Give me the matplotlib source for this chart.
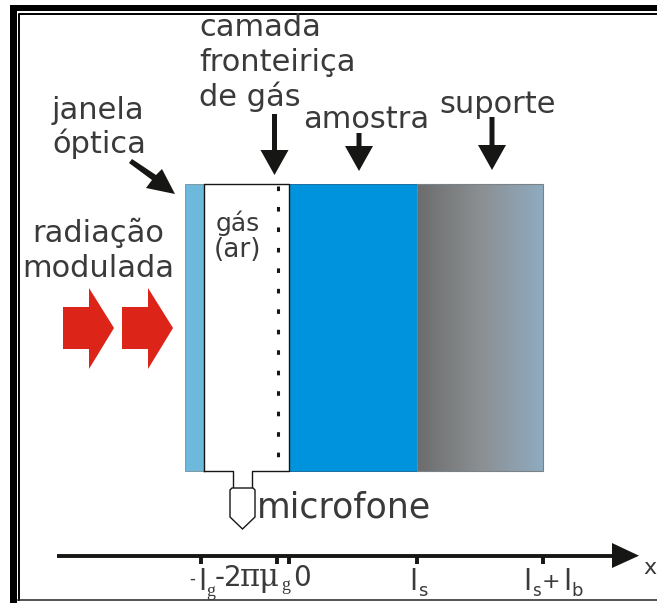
import numpy as np
import matplotlib
matplotlib.use('Agg')
import matplotlib.pyplot as plt
from matplotlib.patches import Rectangle, Polygon

plt.rcParams['font.family'] = ['DejaVu Sans']

# layer boundaries along the x axis (pixels of the sketch)
layer_names = ['janela', 'gas', 'amostra', 'suporte']
layer_edges = [185, 204, 289, 417, 543]
layer_top = 184
layer_bottom = 471

# x axis ticks
tick_pos = [201, 277, 289, 417, 543]

TEXT = '#3a3a3a'
BLACK = '#161614'

fig = plt.figure(figsize=(6.57, 6.03), dpi=100)
ax = fig.add_axes([0, 0, 1, 1])
ax.axis('off')

# frame
ax.add_patch(Rectangle((10, 5), 700, 600, fc='black', ec='none', zorder=0))
ax.add_patch(Rectangle((16.5, 10.5), 700, 600, fc='white', ec='none', zorder=0))
ax.plot([18.8, 18.8, 657], [600, 13.8, 13.8], color='black', lw=1.4, zorder=1)
ax.plot([18, 657], [600, 600], color='#222222', lw=1.1, zorder=1)

# layers
ax.add_patch(Rectangle((layer_edges[0], layer_top), layer_edges[1] - layer_edges[0],
                       layer_bottom - layer_top, fc='#6cb9dc', ec='#7f98a4', lw=0.7, zorder=2))
ax.add_patch(Rectangle((layer_edges[2], layer_top), layer_edges[3] - layer_edges[2],
                       layer_bottom - layer_top, fc='#0093dd', ec='#1b6f9e', lw=0.7, zorder=2))

# gradient of the support
cmap = matplotlib.colors.LinearSegmentedColormap.from_list('sup', ['#6c6c6c', '#8b8f92', '#8fabc0'])
ax.imshow(np.linspace(0, 1, 256)[None, :], cmap=cmap, aspect='auto', zorder=2,
          extent=(layer_edges[3], layer_edges[4], layer_bottom, layer_top))
ax.add_patch(Rectangle((layer_edges[3], layer_top), layer_edges[4] - layer_edges[3],
                       layer_bottom - layer_top, fc='none', ec='#7b8287', lw=0.8, zorder=3))
ax.set_xlim(0, 657)
ax.set_ylim(603, 0)

# gas cell outline with the microphone tube
ax.plot([204, 204, 289, 289, 252, 252], [471, 184, 184, 471, 471, 488], color=BLACK, lw=1.0, zorder=4)
ax.plot([204, 233, 233], [471, 471, 488], color=BLACK, lw=1.0, zorder=4)
ax.plot([277.5, 277.5], [186, 470], color=BLACK, lw=2.2, ls=(0, (1.5, 5.2)), zorder=4)

# microphone
ax.add_patch(Polygon([(232, 488), (253, 488), (255, 490), (255, 517), (242.5, 529), (230, 517), (230, 490)],
                     closed=True, fc='white', ec=BLACK, lw=1.0, zorder=4))


def down_arrow(x, y0, y1, shaft=5, head=14, head_h=25):
    ax.add_patch(Polygon([(x - shaft / 2, y0), (x + shaft / 2, y0), (x + shaft / 2, y1 - head_h),
                          (x + head, y1 - head_h), (x, y1), (x - head, y1 - head_h),
                          (x - shaft / 2, y1 - head_h)], fc=BLACK, ec='none', zorder=5))


down_arrow(274.5, 114, 175)
down_arrow(359, 133, 171)
down_arrow(492, 117, 170)
# window arrow
ax.add_patch(Polygon([(129, 163), (132, 159), (156, 175), (162, 169), (175, 194), (146, 188), (152, 180)],
                     fc=BLACK, ec='none', zorder=5))

# red arrows
for x0 in [63, 122]:
    ax.add_patch(Polygon([(x0, 307), (x0 + 26, 307), (x0 + 26, 288), (x0 + 51, 328),
                          (x0 + 26, 369), (x0 + 26, 349), (x0, 349)], fc='#dc2418', ec='none', zorder=5))

# x axis
ax.plot([57, 615], [555.7, 555.7], color=BLACK, lw=2.8, solid_capstyle='butt', zorder=5)
ax.add_patch(Polygon([(612, 543), (639, 555.7), (612, 568)], fc=BLACK, ec='none', zorder=5))
for t in tick_pos:
    ax.plot([t, t], [556, 564], color=BLACK, lw=2.8, solid_capstyle='butt', zorder=5)


def label(x, y, s, size=22, family='DejaVu Sans', weight='normal'):
    ax.text(x, y, s, fontsize=size, color=TEXT, ha='left', va='baseline', zorder=6,
            family=family, weight=weight)


label(643.5, 574, 'x', 16)
label(199, 36, 'camada')
label(199, 71, 'fronteiriça')
label(199, 106, 'de gás')
label(52, 119, 'janela')
label(52, 153, 'óptica')
label(303, 128, 'amostra')
label(439, 113, 'suporte')
label(32, 242, 'radiação')
label(22, 277, 'modulada')
label(216, 231, 'gás', 18)
label(214, 257, '(ar)', 19)
label(257, 518, 'microfone', 25)

# tick labels
SERIF = 'Liberation Serif'
label(189, 584, '-', 12)
label(198, 590, 'l', 21)
label(206, 596, 'g', 13, SERIF)
label(215, 586, '-', 20)
label(224, 586, '2', 20)
label(240, 586, 'πμ', 22, 'DejaVu Serif')
label(281, 590, 'g', 13, SERIF)
label(293, 586, '0', 20)
label(409, 590, 'l', 21)
label(418, 596, 's', 13)
label(523, 590, 'l', 21)
label(532, 596, 's', 12)
label(542, 588, '+', 16)
label(563, 590, 'l', 21)
label(571, 596, 'b', 13)

fig.savefig('out.png', dpi=100)
